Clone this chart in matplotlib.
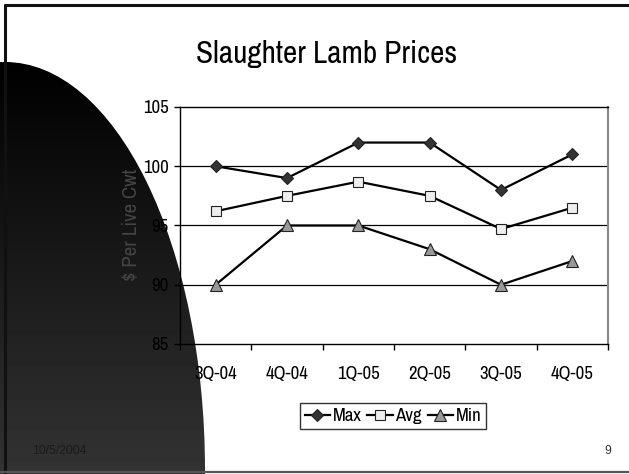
import numpy as np
import matplotlib
matplotlib.use("Agg")
from matplotlib import pyplot as plt
from matplotlib import font_manager
from matplotlib.patches import Ellipse

# look for a narrow sans face (the slide uses Arial Narrow)
narrow = None
for f in font_manager.fontManager.ttflist:
    nm = f.name
    if ('Narrow' in nm or 'Condensed' in nm or f.stretch in ('condensed', 'semi-condensed')) \
            and f.weight in (400, 'normal', 'regular') and f.style == 'normal':
        narrow = f
        if 'Narrow' in nm:
            break
if narrow is not None:
    plt.rcParams['font.family'] = [narrow.name, 'DejaVu Sans']
    plt.rcParams['font.stretch'] = narrow.stretch
else:
    plt.rcParams['font.family'] = ['Liberation Sans', 'DejaVu Sans']

# data
quarters = ['3Q-04', '4Q-04', '1Q-05', '2Q-05', '3Q-05', '4Q-05']
max_price = [100, 99, 102, 102, 98, 101]
avg_price = [96.2, 97.5, 98.7, 97.5, 94.7, 96.5]
min_price = [90, 95, 95, 93, 90, 92]
y_ticks = [85, 90, 95, 100, 105]

W, H = 629, 474
fig = plt.figure(figsize=(W / 100, H / 100), dpi=100)

# slide background: frame + dark curved shape on the left
bg = fig.add_axes([0, 0, 1, 1])
bg.set_xlim(0, W)
bg.set_ylim(H, 0)
bg.axis('off')
grad = np.linspace(0, 1, 300).reshape(-1, 1)
grad = np.clip((grad * H - 62) / (H - 62), 0, 1) * 0.2
img = bg.imshow(grad, cmap='gray', vmin=0, vmax=1, extent=[0, W, H, 0],
                aspect='auto', interpolation='nearest')
shape = Ellipse((5, 470), 400, 816, transform=bg.transData, facecolor='none', edgecolor='none')
bg.add_patch(shape)
img.set_clip_path(shape)
bg.plot([4, W], [5, 5], color='#111111', lw=2.2, solid_capstyle='butt')
bg.plot([5, 5], [4, H], color='#111111', lw=2.2, solid_capstyle='butt')
bg.plot([0, W], [472, 472], color='#555555', lw=1.6, solid_capstyle='butt')

fig.text(327 / W, 1 - 54 / H, 'Slaughter Lamb Prices', ha='center', va='center', fontsize=22.5)
fig.text(32 / W, 1 - 451 / H, '10/5/2004', ha='left', va='center', fontsize=8.8,
         color='#1a1a1a', family=['Liberation Sans', 'DejaVu Sans'], stretch='normal')
fig.text(608 / W, 1 - 451 / H, '9', ha='center', va='center', fontsize=8.8,
         color='#333333', family=['Liberation Sans', 'DejaVu Sans'], stretch='normal')
fig.text(131 / W, 1 - 225 / H, '$ Per Live Cwt', rotation=90, ha='center', va='center',
         fontsize=15, color='#444444')

# chart
ax = fig.add_axes([180 / W, 1 - 344 / H, (608 - 180) / W, (344 - 107) / H])
ax.patch.set_alpha(0)
x = np.arange(len(quarters)) + 0.5

ax.plot(x, max_price, '-', color='black', lw=1.6, marker='D', ms=6,
        mfc='#333333', mec='#222222', mew=0.8, label='Max', zorder=4)
ax.plot(x, avg_price, '-', color='black', lw=1.6, marker='s', ms=7,
        mfc='#eeeeee', mec='#222222', mew=0.8, label='Avg', zorder=4)
ax.plot(x, min_price, '-', color='black', lw=1.6, marker='^', ms=8,
        mfc='#999999', mec='#222222', mew=0.8, label='Min', zorder=4)

ax.set_xlim(0, len(quarters))
ax.set_ylim(85, 105)
ax.set_yticks(y_ticks)
ax.set_xticks(np.arange(len(quarters) + 1))
ax.set_xticklabels([])
ax.set_xticks(x, minor=True)
ax.set_xticklabels(quarters, minor=True, fontsize=13.5)
ax.tick_params(axis='x', which='major', direction='out', length=4, width=1, color='black')
ax.tick_params(axis='x', which='minor', length=0, pad=16)
ax.tick_params(axis='y', direction='out', length=4, width=1, pad=4, labelsize=13.5)
for v in y_ticks[1:-1]:
    ax.axhline(v, color='black', lw=0.9, zorder=1)
for s in ['left', 'bottom', 'top']:
    ax.spines[s].set_color('black')
    ax.spines[s].set_linewidth(1)
ax.spines['right'].set_color('#888888')
ax.spines['right'].set_linewidth(1.5)

leg = ax.legend(loc='center', bbox_to_anchor=(393 / W, 1 - 416 / H), bbox_transform=fig.transFigure,
                ncol=3, fontsize=13.5, frameon=True, fancybox=False, edgecolor='black',
                handlelength=1.35, handletextpad=0.15, columnspacing=0.3, borderpad=0.25,
                borderaxespad=0)
leg.get_frame().set_linewidth(1)

fig.savefig('out.png', dpi=100)
